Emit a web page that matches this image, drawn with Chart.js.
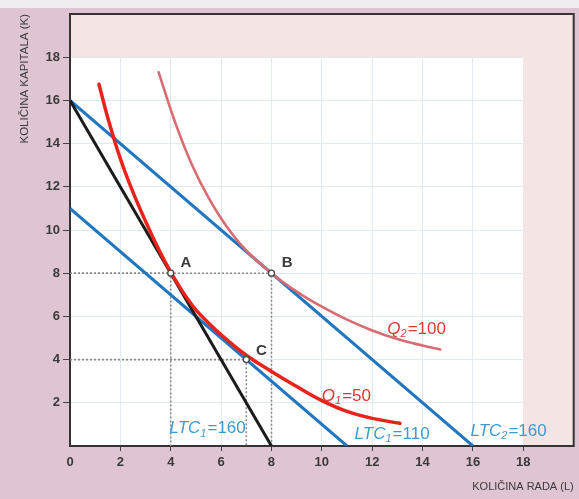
<!DOCTYPE html>
<html>
<head>
<meta charset="utf-8">
<script src="https://cdn.jsdelivr.net/npm/chart.js@4/dist/chart.umd.min.js"></script>
<style>
  html, body { margin: 0; padding: 0; background: #dfc4d4; overflow: hidden; }
  #wrap { width: 579px; height: 499px; }
</style>
</head>
<body>
<div id="wrap"><canvas id="chart" width="579" height="499"></canvas></div>
<script>
// axes
var X_TICKS = [0, 2, 4, 6, 8, 10, 12, 14, 16, 18];
var Y_TICKS = [2, 4, 6, 8, 10, 12, 14, 16, 18];
var AXIS_MAX = 20;
var PAPER_MAX = 18;

// isocost lines: [L, K] end points
var LTC1_160 = [[0, 16], [8, 0]];
var LTC1_110 = [[0, 11], [11, 0]];
var LTC2_160 = [[0, 16], [16, 0]];

// isoquants
var Q1_L = [1.15, 1.5, 2.0, 2.5, 3.0, 3.5, 4.0, 4.5, 5.0, 5.5, 6.0, 7.0, 8.0, 9.0, 10.0, 11.0, 12.0, 13.1];
var Q1_K = [16.75, 15.2, 13.3, 11.75, 10.4, 9.15, 8.05, 7.1, 6.3, 5.7, 5.15, 4.2, 3.45, 2.75, 2.1, 1.6, 1.28, 1.05];
var Q2_L = [3.52, 4.2, 4.85, 5.5, 6.2, 7.0, 8.0, 9.0, 10.0, 11.0, 12.0, 13.0, 14.0, 14.7];
var Q2_K = [17.3, 14.9, 13.0, 11.5, 10.2, 9.05, 8.0, 7.15, 6.45, 5.85, 5.35, 4.95, 4.65, 4.47];

// marked combinations
var POINT_NAMES = ['A', 'B', 'C'];
var POINT_L = [4, 8, 7];
var POINT_K = [8, 8, 4];

var BG_OUTER = '#dfc4d4';
var BG_MARGIN = '#f4e4e4';
var RED = '#e8231c';
var PINK = '#d96b73';
var BLUE = '#2176c0';
var LABEL_BLUE = '#3d9bd2';
var INK = '#3a3a3a';

// text placed on the plot (anchor in data units)
var POINT_LABEL_POS = [[4.6, 8.5], [8.62, 8.5], [7.6, 4.4]];
var CURVE_LABELS = [
  { main: 'Q', sub: '2', tail: '=100', at: [12.6, 5.4], color: '#e03a35' },
  { main: 'Q', sub: '1', tail: '=50', at: [10.0, 2.3], color: '#e0352e' },
  { main: 'LTC', sub: '1', tail: '=160', at: [3.95, 0.8], color: LABEL_BLUE },
  { main: 'LTC', sub: '1', tail: '=110', at: [11.3, 0.55], color: LABEL_BLUE },
  { main: 'LTC', sub: '2', tail: '=160', at: [15.9, 0.7], color: LABEL_BLUE }
];

function toXY(pairs) {
  return pairs.map(function (p) { return { x: p[0], y: p[1] }; });
}

function zipXY(xs, ys) {
  return xs.map(function (x, i) { return { x: x, y: ys[i] }; });
}

function line(data, color, width) {
  return {
    data: data, showLine: true, borderColor: color, borderWidth: width,
    pointRadius: 0, fill: false
  };
}

function curve(data, color, width) {
  var d = line(data, color, width);
  d.tension = 0.4;
  d.borderCapStyle = 'round';
  return d;
}

function guideLines() {
  return POINT_L.map(function (L, i) {
    var K = POINT_K[i];
    return {
      data: [{ x: 0, y: K }, { x: L, y: K }, { x: L, y: 0 }],
      showLine: true, borderColor: '#8a8a8a', borderWidth: 1.6,
      borderDash: [2, 2], pointRadius: 0, fill: false
    };
  });
}

function drawRich(ctx, item, px, py) {
  var size = 17;
  ctx.textBaseline = 'middle';
  ctx.textAlign = 'left';
  ctx.fillStyle = item.color;
  ctx.font = 'italic ' + size + 'px "Liberation Sans", Arial, sans-serif';
  ctx.fillText(item.main, px, py);
  var x = px + ctx.measureText(item.main).width;
  ctx.font = 'italic ' + Math.round(size * 0.62) + 'px "Liberation Sans", Arial, sans-serif';
  ctx.fillText(item.sub, x, py + 5);
  x += ctx.measureText(item.sub).width + 1;
  ctx.font = size + 'px "Liberation Sans", Arial, sans-serif';
  ctx.fillText(item.tail, x, py);
}

var paperPlugin = {
  id: 'paper',
  beforeDraw: function (chart) {
    var ctx = chart.ctx, a = chart.chartArea;
    var xs = chart.scales.x, ys = chart.scales.y;
    var x18 = xs.getPixelForValue(PAPER_MAX), y18 = ys.getPixelForValue(PAPER_MAX);
    ctx.save();
    ctx.fillStyle = BG_OUTER;
    ctx.fillRect(0, 0, chart.width, chart.height);
    ctx.fillStyle = '#efedef';
    ctx.fillRect(0, 0, chart.width, 8);
    ctx.fillStyle = '#ffffff';
    ctx.fillRect(a.left, y18, x18 - a.left, a.bottom - y18);
    ctx.restore();
  },
  beforeDatasetsDraw: function (chart) {
    var ctx = chart.ctx, a = chart.chartArea;
    var xs = chart.scales.x, ys = chart.scales.y;
    var x18 = xs.getPixelForValue(PAPER_MAX), y18 = ys.getPixelForValue(PAPER_MAX);
    ctx.save();
    ctx.fillStyle = BG_MARGIN;
    ctx.fillRect(a.left + 1, a.top, a.right - a.left - 1, y18 - a.top);
    ctx.fillRect(x18, a.top, a.right - x18, a.bottom - a.top - 1);
    ctx.strokeStyle = '#3a3232';
    ctx.lineWidth = 2;
    ctx.beginPath();
    ctx.moveTo(a.left - 1, a.top);
    ctx.lineTo(a.right, a.top);
    ctx.lineTo(a.right, a.bottom + 1);
    ctx.stroke();
    ctx.restore();
  },
  afterDatasetsDraw: function (chart) {
    var ctx = chart.ctx;
    var xs = chart.scales.x, ys = chart.scales.y;
    ctx.save();
    ctx.fillStyle = INK;
    ctx.font = '600 15px "Liberation Sans", Arial, sans-serif';
    ctx.textAlign = 'center';
    ctx.textBaseline = 'middle';
    POINT_NAMES.forEach(function (n, i) {
      var p = POINT_LABEL_POS[i];
      ctx.fillText(n, xs.getPixelForValue(p[0]), ys.getPixelForValue(p[1]));
    });
    CURVE_LABELS.forEach(function (item) {
      drawRich(ctx, item, xs.getPixelForValue(item.at[0]), ys.getPixelForValue(item.at[1]));
    });
    ctx.restore();
  }
};

Chart.defaults.font.family = '"Liberation Sans", Arial, sans-serif';

var datasets = [
  {
    data: zipXY(POINT_L, POINT_K), showLine: false,
    pointRadius: 3, pointBackgroundColor: '#ffffff',
    pointBorderColor: '#444', pointBorderWidth: 1.3
  },
  curve(zipXY(Q1_L, Q1_K), RED, 3.5),
  line(toXY(LTC1_160), '#1b1b1b', 3),
  curve(zipXY(Q2_L, Q2_K), PINK, 2.6),
  line(toXY(LTC1_110), BLUE, 3),
  line(toXY(LTC2_160), BLUE, 3)
].concat(guideLines());

function tickColor(ctx) {
  return ctx.tick && ctx.tick.value > 0 && ctx.tick.value < AXIS_MAX ? '#444' : 'rgba(0,0,0,0)';
}

function gridColor(ctx) {
  return ctx.tick && ctx.tick.value > 0 ? '#e2eaf1' : 'rgba(0,0,0,0)';
}

new Chart(document.getElementById('chart'), {
  type: 'scatter',
  data: { datasets: datasets },
  options: {
    responsive: false,
    animation: false,
    devicePixelRatio: 1,
    layout: { padding: { top: 14, right: 4, left: 0, bottom: 0 } },
    plugins: { legend: { display: false }, tooltip: { enabled: false } },
    scales: {
      x: {
        type: 'linear', min: 0, max: AXIS_MAX,
        afterBuildTicks: function (s) { s.ticks = X_TICKS.map(function (v) { return { value: v }; }); },
        afterFit: function (s) { s.height = 53; },
        ticks: {
          color: INK, padding: 4, maxRotation: 0, autoSkip: false,
          font: { size: 13, weight: 'bold' }
        },
        grid: { color: gridColor, tickColor: tickColor, tickLength: 5, lineWidth: 1 },
        border: { color: '#333', width: 2 },
        title: {
          display: true, text: 'KOLIČINA RADA (L)', align: 'end', color: INK,
          font: { size: 11 }, padding: { top: 0, bottom: 5 }
        }
      },
      y: {
        type: 'linear', min: 0, max: AXIS_MAX,
        afterBuildTicks: function (s) { s.ticks = Y_TICKS.map(function (v) { return { value: v }; }); },
        afterFit: function (s) { s.width = 70; },
        ticks: { color: INK, padding: 3, font: { size: 13, weight: 'bold' } },
        grid: { color: gridColor, tickColor: tickColor, tickLength: 7, lineWidth: 1 },
        border: { color: '#333', width: 2 },
        title: {
          display: true, text: 'KOLIČINA KAPITALA (K)', align: 'end', color: INK,
          font: { size: 11.5 }, padding: { top: 18, bottom: 0 }
        }
      }
    }
  },
  plugins: [paperPlugin]
});
</script>
</body>
</html>
